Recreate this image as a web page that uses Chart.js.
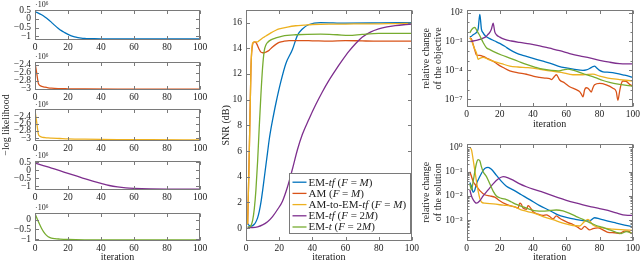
<!DOCTYPE html>
<html><head><meta charset="utf-8">
<script src="https://cdn.jsdelivr.net/npm/chart.js@4/dist/chart.umd.min.js"></script>
<style>
html,body{margin:0;padding:0;background:#fff;overflow:hidden;width:640px;height:262px;position:relative;}
canvas{position:absolute;}
</style></head><body>
<canvas id="p1"></canvas><canvas id="p2"></canvas><canvas id="p4"></canvas><canvas id="p5"></canvas><canvas id="p3"></canvas>
<canvas id="snr"></canvas><canvas id="obj"></canvas><canvas id="sol"></canvas>
<script>
// ---------------- DATA ----------------
const iterTicks = [0, 20, 40, 60, 80, 100];
const seriesMarkup = ['EM-_tf_ (_F_ = _M_)', 'AM (_F_ = _M_)', 'AM-to-EM-_tf_ (_F_ = _M_)', 'EM-_tf_ (_F_ = 2_M_)', 'EM-_t_ (_F_ = 2_M_)'];
const seriesColors = ['#0072BD', '#D95319', '#EDB120', '#7E2F8E', '#77AC30'];

// -log likelihood (x10^6), one panel per method
const llIterBlue = [0,2,4,6,8,10,12,14,16,18,20,22,24,26,28,30,33,36,40,50,60,70,80,90,100];
const llBlue = [0.4,0.33,0.23,0.11,-0.03,-0.2,-0.37,-0.53,-0.67,-0.78,-0.88,-0.96,-1.02,-1.06,-1.09,-1.11,-1.125,-1.13,-1.135,-1.14,-1.14,-1.14,-1.14,-1.14,-1.14];
const llIterOrange = [0,1,2,3,4,6,8,10,14,20,30,50,100];
const llOrange = [-2.36,-2.6,-2.86,-2.92,-2.94,-2.96,-2.975,-2.985,-2.995,-3.0,-3.005,-3.01,-3.01];
const llIterYellow = [0,1,2,3,4,6,8,10,15,20,30,50,70,100];
const llYellow = [-2.23,-2.55,-2.88,-2.95,-2.97,-2.985,-2.995,-3.0,-3.01,-3.02,-3.03,-3.04,-3.045,-3.05];
const llIterPurple = [0,5,10,15,20,25,30,35,40,45,50,55,60,70,80,100];
const llPurple = [0.45,0.3,0.14,-0.02,-0.19,-0.35,-0.52,-0.67,-0.81,-0.94,-1.03,-1.09,-1.12,-1.15,-1.16,-1.16];
const llIterGreen = [0,2,4,6,8,10,12,15,20,30,40,60,100];
const llGreen = [0.3,-0.1,-0.46,-0.72,-0.88,-0.95,-0.98,-1.0,-1.02,-1.04,-1.045,-1.05,-1.05];
const llTicksA = [0.5, 0, -0.5, -1];
const llTicksB = [-2.4, -2.6, -2.8, -3];
const llTicksC = [0, -0.5, -1];
const llExponentLabel = '\u00b710\u2076';

// SNR (dB)
const snrIterBlue = [1,2,3,4,5,6,7,8,9,10,11,12,13,14,15,16,18,21,24,28,31,34,38,45,60,80,100];
const snrBlue = [0.35,0.2,0.15,0.2,0.3,0.5,0.8,1.3,2.0,2.9,3.9,4.9,5.9,6.9,7.7,8.4,9.7,11.4,12.8,13.9,15.0,15.5,15.85,16.0,15.95,15.97,16.0];
const snrIterOrange = [1,2,3,4,5,6,7,8,9,10,11,12,14,16,18,20,23,26,30,40,50,60,70,80,100];
const snrOrange = [0.3,6.0,12.5,14.3,14.5,14.45,14.2,13.9,13.7,13.65,13.65,13.7,13.85,14.1,14.3,14.45,14.55,14.6,14.6,14.58,14.55,14.6,14.57,14.55,14.55];
const snrIterYellow = [1,2,3,4,5,6,7,8,10,12,15,18,20,25,30,35,40,50,60,70,80,90,100];
const snrYellow = [0.3,6.0,12.5,14.4,14.5,14.5,14.5,14.6,14.8,14.95,15.2,15.4,15.5,15.65,15.75,15.8,15.85,15.88,15.88,15.9,15.9,15.92,15.93];
const snrIterPurple = [1,4,7,10,13,16,19,22,25,28,31,34,38,42,46,50,54,58,62,66,70,75,80,85,90,95,100];
const snrPurple = [0.05,0.05,0.1,0.25,0.5,0.9,1.45,2.1,3.2,4.6,6.1,7.3,8.5,9.6,10.6,11.5,12.3,13.05,13.75,14.35,14.85,15.25,15.5,15.66,15.76,15.83,15.87];
const snrIterGreen = [1,2,3,4,5,6,7,8,9,10,11,12,13,15,18,22,30,45,55,62,70,80,100];
const snrGreen = [0.1,0.1,0.2,0.6,1.5,3.0,5.2,7.9,10.4,12.5,13.8,14.25,14.45,14.65,14.8,14.95,15.05,15.1,15.05,15.0,15.08,15.15,15.15];
const snrTicks = [0,2,4,6,8,10,12,14,16];

// relative change of the objective (log10 of value)
const objIterBlue = [2,3,4,5,6,7,8,9,10,11,12,14,17,20,23,26,30,33,36,39,42,46,50,55,60,65,70,72,74,76,77,78,80,82,86,90,95,100];
const objLog10Blue = [-0.5,-0.45,-0.3,-0.2,-0.05,0.3,1.8,0.25,-0.1,-0.35,-0.5,-0.7,-0.95,-1.2,-1.5,-1.85,-2.2,-2.4,-2.55,-2.7,-2.85,-3.05,-3.25,-3.55,-3.75,-3.9,-4.0,-3.95,-3.8,-3.6,-3.55,-3.7,-4.0,-4.15,-4.2,-4.3,-4.5,-4.72];
const objIterOrange = [2,3,4,5,6,8,10,13,16,19,22,26,31,36,40,44,47,50,51,53,54,56,59,62,66,68,69,70,71,72,73,74,75,76,77,80,84,88,90,91,92,93,94,96,98,100];
const objLog10Orange = [-0.6,-0.75,-1.3,-1.9,-2.4,-2.45,-2.55,-2.8,-3.05,-3.4,-3.7,-4.05,-4.25,-4.4,-4.6,-4.72,-4.8,-4.85,-4.95,-4.6,-4.45,-5.0,-5.3,-5.7,-6.0,-6.2,-6.45,-6.75,-6.0,-5.8,-5.85,-6.05,-6.25,-5.8,-5.5,-5.35,-5.5,-5.85,-6.2,-7.1,-6.2,-5.4,-5.1,-5.15,-5.45,-5.65];
const objIterYellow = [2,3,4,5,6,7,8,10,13,16,21,26,31,37,44,50,57,64,70,76,80,85,92,100];
const objLog10Yellow = [-0.6,-0.9,-1.4,-1.8,-2.2,-2.85,-2.75,-2.65,-2.85,-3.05,-3.3,-3.55,-3.65,-3.72,-3.88,-4.05,-4.2,-4.45,-4.45,-4.38,-4.6,-4.8,-4.95,-5.1];
const objIterPurple = [2,4,6,8,10,12,13,14,15,16,17,18,20,23,27,32,38,44,50,56,62,68,74,80,86,92,96,100];
const objLog10Purple = [-1.0,-0.95,-0.88,-0.78,-0.65,-0.45,-0.25,-0.05,0.3,0.9,0.0,-0.3,-0.55,-0.78,-0.95,-1.1,-1.25,-1.45,-1.7,-1.95,-2.25,-2.5,-2.7,-2.95,-3.15,-3.3,-3.33,-3.32];
const objIterGreen = [2,3,4,5,6,7,8,10,12,14,16,21,26,31,36,41,46,51,55,58,61,64,68,72,77,82,86,92,100];
const objLog10Green = [-0.1,0.2,0.4,0.45,0.2,-0.1,-0.4,-1.1,-1.65,-1.85,-2.02,-2.4,-2.72,-3.05,-3.38,-3.65,-3.88,-4.0,-4.05,-3.95,-3.87,-3.98,-4.2,-4.45,-4.72,-5.05,-5.25,-5.45,-5.65];
const objTickExps = [2, -1, -4, -7];

// relative change of the solution (log10 of value)
const solIterBlue = [2,3,4,5,6,8,10,11,12,13,14,15,18,21,24,28,33,38,44,50,55,60,65,70,74,77,80,85,90,95,100];
const solLog10Blue = [-1.45,-1.6,-1.85,-1.75,-1.5,-1.2,-0.95,-0.87,-0.83,-0.82,-0.85,-0.9,-1.15,-1.4,-1.6,-1.75,-1.95,-2.15,-2.4,-2.6,-2.78,-2.88,-2.96,-3.02,-3.03,-2.9,-2.95,-3.04,-3.12,-3.2,-3.28];
const solIterOrange = [2,3,4,6,8,11,14,17,20,23,26,29,31,32,33,34,36,37,38,40,43,46,48,50,52,54,56,58,61,64,67,69,71,72,74,76,79,82,85,89,92,95,97,100];
const solLog10Orange = [-1.0,-1.2,-1.4,-1.6,-1.78,-1.95,-2.0,-2.05,-2.2,-2.32,-2.4,-2.45,-2.5,-2.3,-2.35,-2.5,-2.55,-2.4,-2.45,-2.65,-2.75,-2.8,-2.78,-2.85,-2.95,-2.82,-2.92,-3.0,-3.1,-3.18,-3.3,-3.38,-3.26,-3.3,-3.4,-3.35,-3.32,-3.4,-3.5,-3.52,-3.55,-3.45,-3.45,-3.58];
const solIterYellow = [2,3,4,5,6,7,8,9,11,16,22,28,34,40,46,52,58,64,68,71,73,76,80,88,95,100];
const solLog10Yellow = [0.0,-0.1,-0.5,-0.95,-1.4,-1.8,-2.1,-2.25,-2.3,-2.33,-2.38,-2.43,-2.6,-2.7,-2.85,-2.98,-3.12,-3.22,-3.24,-3.05,-2.97,-3.2,-3.3,-3.37,-3.4,-3.42];
const solIterPurple = [2,3,4,6,8,10,13,16,19,22,25,28,32,36,40,45,50,55,60,65,70,75,80,85,90,94,97,100];
const solLog10Purple = [-1.75,-2.0,-2.15,-2.3,-2.2,-2.0,-1.75,-1.5,-1.3,-1.2,-1.25,-1.35,-1.5,-1.62,-1.72,-1.82,-1.95,-2.07,-2.18,-2.28,-2.37,-2.45,-2.52,-2.6,-2.7,-2.78,-2.8,-2.8];
const solIterGreen = [2,3,4,5,6,7,8,9,10,12,14,16,18,21,24,27,30,34,38,42,46,50,54,58,62,66,70,74,78,82,86,90,93,96,100];
const solLog10Green = [-1.5,-1.75,-1.4,-1.0,-0.65,-0.5,-0.55,-0.8,-1.0,-1.2,-1.5,-1.8,-2.0,-2.1,-2.15,-2.25,-2.35,-2.45,-2.55,-2.62,-2.63,-2.6,-2.58,-2.62,-2.72,-2.85,-2.97,-3.1,-3.22,-3.3,-3.4,-3.5,-3.55,-3.47,-3.56];
const solTickExps = [0, -1, -2, -3];

// ---------------- STYLE / HELPERS ----------------
const FONT = "'Liberation Serif', 'DejaVu Serif', serif";
const FRAME = '#7a7a7a';
const TXT = '#222';
Chart.defaults.font.family = FONT;
const SUP = {'-':'\u207b','0':'\u2070','1':'\u00b9','2':'\u00b2','3':'\u00b3','4':'\u2074','5':'\u2075','6':'\u2076','7':'\u2077','8':'\u2078','9':'\u2079'};
const powLabel = e => '10' + String(e).split('').map(c => SUP[c]).join('');
const fmtNum = v => String(v).replace('-', '\u2212');
const stripMarkup = s => s.replace(/_/g, '');

function ds(xs, ys, ci, conv) {
  return {
    label: stripMarkup(seriesMarkup[ci]),
    data: xs.map((x, i) => ({x: x, y: conv ? Math.pow(10, ys[i]) : ys[i]})),
    borderColor: seriesColors[ci], backgroundColor: seriesColors[ci],
    borderWidth: 1.3, pointRadius: 0, fill: false,
    cubicInterpolationMode: 'monotone', order: 5 - ci
  };
}

const framePlugin = {
  id: 'frame',
  afterDatasetsDraw(chart, args, opts) {
    const {ctx, chartArea: a} = chart;
    const xs = chart.scales.x, ys = chart.scales.y;
    const L = Math.round(a.left) + 0.5, R = Math.round(a.right) - 0.5;
    const T = Math.round(a.top) + 0.5, B = Math.round(a.bottom) - 0.5;
    ctx.save();
    ctx.strokeStyle = FRAME; ctx.lineWidth = 1;
    ctx.beginPath();
    const tl = 3.5, ml = 2;
    xs.ticks.forEach(t => { const p = Math.round(xs.getPixelForValue(t.value)) + 0.5;
      ctx.moveTo(p, B); ctx.lineTo(p, B - tl); ctx.moveTo(p, T); ctx.lineTo(p, T + tl); });
    ys.ticks.forEach(t => { const p = Math.round(ys.getPixelForValue(t.value)) + 0.5;
      ctx.moveTo(L, p); ctx.lineTo(L + tl, p); ctx.moveTo(R, p); ctx.lineTo(R - tl, p); });
    (opts.minor || []).forEach(v => { const p = Math.round(ys.getPixelForValue(v)) + 0.5;
      if (p < T || p > B) return;
      ctx.moveTo(L, p); ctx.lineTo(L + ml, p); ctx.moveTo(R, p); ctx.lineTo(R - ml, p); });
    ctx.stroke();
    ctx.strokeRect(L, T, R - L, B - T);
    ctx.restore();
  }
};

const expPlugin = {
  id: 'expLabel',
  afterDraw(chart, args, opts) {
    if (!opts.text) return;
    const {ctx, chartArea: a} = chart;
    ctx.save();
    ctx.fillStyle = TXT; ctx.font = '8px ' + FONT;
    ctx.textAlign = 'left'; ctx.textBaseline = 'bottom';
    ctx.fillText(opts.text, a.left, a.top - 0.5);
    ctx.restore();
  }
};

const sideTitlePlugin = {
  id: 'sideTitle',
  afterDraw(chart, args, opts) {
    if (!opts.text) return;
    const {ctx, chartArea: a} = chart;
    ctx.save();
    ctx.fillStyle = TXT; ctx.font = '10px ' + FONT;
    ctx.textAlign = 'center'; ctx.textBaseline = 'middle';
    ctx.translate(opts.x, (a.top + a.bottom) / 2);
    ctx.rotate(-Math.PI / 2);
    ctx.fillText(opts.text, 0, 0);
    ctx.restore();
  }
};

const richLegendPlugin = {
  id: 'richLegend',
  afterDraw(chart, args, opts) {
    if (!opts.show) return;
    const {ctx, chartArea: a} = chart;
    const boxR = Math.round(a.right) - 1.5, boxL = boxR - 121;
    const boxT = Math.round(a.bottom) - 67.5, boxB = Math.round(a.bottom) - 7.5;
    ctx.save();
    ctx.fillStyle = '#fff';
    ctx.fillRect(boxL, boxT, boxR - boxL, boxB - boxT);
    ctx.strokeStyle = FRAME; ctx.lineWidth = 1;
    ctx.strokeRect(boxL, boxT, boxR - boxL, boxB - boxT);
    const rowH = 11.2;
    chart.data.datasets.forEach((d, i) => {
      const y = boxT + 8.7 + i * rowH;
      ctx.strokeStyle = seriesColors[i]; ctx.lineWidth = 1.3;
      ctx.beginPath(); ctx.moveTo(boxL + 3, y); ctx.lineTo(boxL + 17, y); ctx.stroke();
      let x = boxL + 19;
      ctx.fillStyle = TXT; ctx.textBaseline = 'middle'; ctx.textAlign = 'left';
      seriesMarkup[i].split('_').forEach((seg, k) => {
        ctx.font = (k % 2 ? 'italic ' : '') + '11px ' + FONT;
        ctx.fillText(seg, x, y + 0.5);
        x += ctx.measureText(seg).width;
      });
    });
    ctx.restore();
  }
};

function makeChart(id, c) {
  const cv = document.getElementById(id);
  cv.width = c.width; cv.height = c.height;
  Object.assign(cv.style, {left: c.left + 'px', top: c.top + 'px', width: c.width + 'px', height: c.height + 'px'});
  const tickFont = {size: 9.5, family: FONT};
  return new Chart(cv, {
    type: 'line',
    data: {datasets: c.datasets},
    options: {
      responsive: false, animation: false, devicePixelRatio: 1, events: [],
      layout: {padding: c.pad},
      plugins: {
        legend: {display: false}, tooltip: {enabled: false},
        frame: {minor: c.minor || []},
        expLabel: {text: c.expText || ''},
        sideTitle: c.sideTitle || {},
        richLegend: {show: !!c.legend}
      },
      scales: {
        x: {
          type: 'linear', min: 0, max: 100, bounds: 'data',
          afterBuildTicks: s => { s.ticks = iterTicks.map(v => ({value: v})); },
          afterFit: s => { s.height = c.hx; },
          grid: {display: false, drawTicks: false}, border: {display: false},
          ticks: {font: tickFont, color: TXT, padding: 2, maxRotation: 0, autoSkip: false},
          title: c.xTitle ? {display: true, text: 'iteration', color: TXT,
            font: {size: 10, family: FONT, lineHeight: 1.0}, padding: {top: 0, bottom: c.xTitlePad || 0}} : {display: false}
        },
        y: {
          type: c.yType || 'linear', min: c.yMin, max: c.yMax, bounds: 'data',
          afterBuildTicks: s => { s.ticks = c.yTicks.map(v => ({value: v})); },
          afterFit: s => { s.width = c.wy; },
          grid: {display: false, drawTicks: false}, border: {display: false},
          ticks: {font: tickFont, color: TXT, padding: 4, autoSkip: false,
            callback: (v, i) => c.yLabels[i]},
          title: c.yTitle ? {display: true, text: c.yTitle, color: TXT,
            font: {size: 10, family: FONT, lineHeight: c.yTitleLH || 1.0}, padding: {top: c.yTitlePad || 0, bottom: 0}} : {display: false}
        }
      }
    },
    plugins: [framePlugin, expPlugin, sideTitlePlugin, richLegendPlugin]
  });
}

// ---------------- LEFT COLUMN ----------------
const leftBase = {left: 0, width: 215, wy: 35, expText: llExponentLabel};
makeChart('p1', Object.assign({}, leftBase, {top: 0, height: 53, hx: 13, pad: {top: 7, right: 15, left: 0, bottom: 0},
  datasets: [ds(llIterBlue, llBlue, 0)], yMin: -1.2, yMax: 0.52, yTicks: llTicksA, yLabels: llTicksA.map(fmtNum)}));
makeChart('p2', Object.assign({}, leftBase, {top: 52, height: 51, hx: 13, pad: {top: 7.5, right: 15, left: 0, bottom: 0},
  datasets: [ds(llIterOrange, llOrange, 1)], yMin: -3.03, yMax: -2.33, yTicks: llTicksB, yLabels: llTicksB.map(fmtNum)}));
makeChart('p3', Object.assign({}, leftBase, {top: 60, height: 130, hx: 13, pad: {top: 49, right: 15, left: 0, bottom: 36},
  datasets: [ds(llIterYellow, llYellow, 2)], yMin: -3.08, yMax: -2.19, yTicks: llTicksB, yLabels: llTicksB.map(fmtNum),
  sideTitle: {text: '\u2212log likelihood', x: 6}}));
makeChart('p4', Object.assign({}, leftBase, {top: 151, height: 52, hx: 13, pad: {top: 7.5, right: 15, left: 0, bottom: 0},
  datasets: [ds(llIterPurple, llPurple, 3)], yMin: -1.22, yMax: 0.6, yTicks: llTicksA, yLabels: llTicksA.map(fmtNum)}));
makeChart('p5', Object.assign({}, leftBase, {top: 203, height: 59, hx: 21, pad: {top: 7, right: 15, left: 0, bottom: 0},
  datasets: [ds(llIterGreen, llGreen, 4)], yMin: -1.1, yMax: 0.35, yTicks: llTicksC, yLabels: llTicksC.map(fmtNum), xTitle: true}));

// ---------------- MIDDLE: SNR ----------------
makeChart('snr', {left: 218, top: 0, width: 203, height: 262, wy: 28, hx: 21, pad: {top: 8, right: 9, left: 0, bottom: 0},
  datasets: [ds(snrIterBlue, snrBlue, 0), ds(snrIterOrange, snrOrange, 1), ds(snrIterYellow, snrYellow, 2),
             ds(snrIterPurple, snrPurple, 3), ds(snrIterGreen, snrGreen, 4)],
  yMin: -1, yMax: 17, yTicks: snrTicks, yLabels: snrTicks.map(fmtNum), yTitle: 'SNR (dB)', yTitlePad: 3,
  xTitle: true, legend: true});

// ---------------- RIGHT: log plots ----------------
const objMinor = []; for (let e = -7; e <= 2; e++) if (!objTickExps.includes(e)) objMinor.push(Math.pow(10, e));
const solMinor = []; for (let e = -4; e <= 0; e++) for (let m = 2; m <= 9; m++) solMinor.push(m * Math.pow(10, e));
makeChart('obj', {left: 418, top: 0, width: 224, height: 131, wy: 48.5, hx: 24, pad: {top: 6, right: 9, left: 0, bottom: 0},
  datasets: [ds(objIterBlue, objLog10Blue, 0, true), ds(objIterOrange, objLog10Orange, 1, true), ds(objIterYellow, objLog10Yellow, 2, true),
             ds(objIterPurple, objLog10Purple, 3, true), ds(objIterGreen, objLog10Green, 4, true)],
  yType: 'logarithmic', yMin: Math.pow(10, -7.8), yMax: Math.pow(10, 2.3),
  yTicks: objTickExps.map(e => Math.pow(10, e)), yLabels: objTickExps.map(powLabel), minor: objMinor,
  yTitle: ['relative change', 'of the objective'], yTitleLH: 1.2, yTitlePad: 2, xTitle: true, xTitlePad: 1.5});
makeChart('sol', {left: 418, top: 131, width: 224, height: 131, wy: 48.5, hx: 21, pad: {top: 12.5, right: 9, left: 0, bottom: 0},
  datasets: [ds(solIterBlue, solLog10Blue, 0, true), ds(solIterOrange, solLog10Orange, 1, true), ds(solIterYellow, solLog10Yellow, 2, true),
             ds(solIterPurple, solLog10Purple, 3, true), ds(solIterGreen, solLog10Green, 4, true)],
  yType: 'logarithmic', yMin: Math.pow(10, -3.86), yMax: Math.pow(10, 0.165),
  yTicks: solTickExps.map(e => Math.pow(10, e)), yLabels: solTickExps.map(powLabel), minor: solMinor,
  yTitle: ['relative change', 'of the solution'], yTitleLH: 1.2, yTitlePad: 2, xTitle: true});
</script>
</body></html>
